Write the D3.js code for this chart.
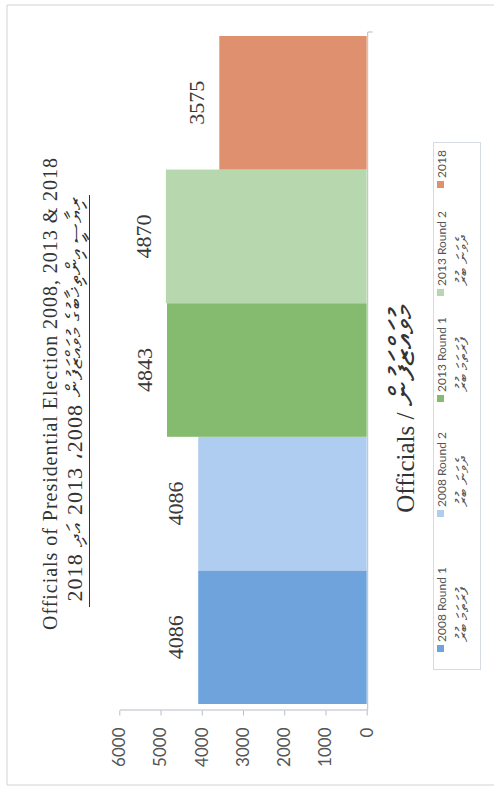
<!DOCTYPE html>
<html><head><meta charset="utf-8">
<script src="https://cdn.jsdelivr.net/npm/d3@7"></script>
<style>body{margin:0;background:#fff} svg{display:block}</style>
</head><body>
<svg id="c" width="494" height="787"></svg>
<script>
const categories = ["2008 Round 1","2008 Round 2","2013 Round 1","2013 Round 2","2018"];
const categoriesDv = ["ފުރަތަމަ ބުރު","ދެވަނަ ބުރު","ފުރަތަމަ ބުރު","ދެވަނަ ބުރު",""];
const values = [4086,4086,4843,4870,3575];
const colors = ["#6fa3dc","#aecdf0","#84bb6e","#b7d8ae","#df916f"];
const tickValues = [0,1000,2000,3000,4000,5000,6000];
const titleEn = "Officials of Presidential Election 2008, 2013 & 2018";
const titleDv = "ރިޔާސީ އިންތިޚާބުގެ މުވައްޒަފުން 2008، 2013 އަދި 2018";
const axisTitleEn = "Officials / ";
const axisTitleDv = "މުވައްޒަފުން";

const W = 787, H = 494;
const svg = d3.select("#c");
// outer frame (page coords)
svg.append("path").attr("d","M494,5 H7 V785 H494").attr("fill","none").attr("stroke","#cfd4da").attr("stroke-width",1);
// legend box (page coords)
svg.append("rect").attr("x",433.5).attr("y",142.5).attr("width",47).attr("height",527)
  .attr("fill","none").attr("stroke","#d6dbe1");

const g = svg.append("g").attr("transform",`translate(0,${W}) rotate(-90)`);

const x = d3.scaleBand().domain(categories).range([83,751]).padding(0);
const y = d3.scaleLinear().domain([0,6000]).range([366.7,119.3]);

g.selectAll("rect.bar").data(categories).join("rect").attr("class","bar")
  .attr("x",d=>x(d)).attr("y",(d,i)=>y(values[i]))
  .attr("width",x.bandwidth()).attr("height",(d,i)=>y(0)-y(values[i]))
  .attr("fill",(d,i)=>colors[i]);

// value axis
const ya = g.append("g").attr("transform","translate(76.5,0)")
  .call(d3.axisLeft(y).tickValues(tickValues).tickSize(5).tickSizeOuter(0).tickPadding(12).tickFormat(d3.format("d")));
ya.select(".domain").attr("stroke","#b5bdc7");
ya.selectAll(".tick line").attr("stroke","#b5bdc7");
ya.selectAll(".tick text").attr("font-family","Lato").attr("font-size",17).attr("fill","#555");

// category axis line
g.append("path").attr("d",`M76.5,${y(0)+1} H755 V${y(0)+6}`).attr("fill","none").attr("stroke","#b5bdc7");

// data labels
g.selectAll("text.lbl").data(categories).join("text").attr("class","lbl")
  .attr("x",d=>x(d)+x.bandwidth()/2).attr("y",(d,i)=>y(values[i])-15)
  .attr("text-anchor","middle").attr("font-family","Liberation Serif").attr("font-size",22).attr("fill","#3a3a3a")
  .text((d,i)=>values[i]);

// titles
g.append("text").attr("x",393).attr("y",57).attr("text-anchor","middle")
  .attr("font-family","Liberation Serif").attr("font-size",20).attr("fill","#333")
  .attr("textLength",472).attr("lengthAdjust","spacing").text(titleEn);
g.append("text").attr("x",388).attr("y",82).attr("text-anchor","middle").attr("direction","rtl")
  .attr("font-family","Liberation Serif").attr("font-size",22).attr("fill","#333")
  .attr("textLength",405).attr("lengthAdjust","spacing").text(titleDv);
g.append("line").attr("x1",180).attr("x2",592).attr("y1",89.5).attr("y2",89.5).attr("stroke","#333");

const at = g.append("text").attr("x",378).attr("y",414).attr("text-anchor","middle")
  .attr("font-family","Liberation Serif").attr("font-size",25).attr("fill","#333");
at.append("tspan").text(axisTitleEn);
at.append("tspan").attr("font-size",34).text(axisTitleDv);

// legend
const legStart = [135,270,385,491,599];
const lg = g.selectAll("g.leg").data(categories).join("g").attr("class","leg")
  .attr("transform",(d,i)=>`translate(${legStart[i]},0)`);
lg.append("rect").attr("x",0).attr("y",437).attr("width",7).attr("height",7).attr("fill",(d,i)=>colors[i]);
lg.append("text").attr("x",10).attr("y",446).attr("font-family","Lato").attr("font-size",12).attr("fill","#555").text(d=>d);
lg.append("text").attr("x",10).attr("y",468).attr("font-family","Lato").attr("font-size",17).attr("fill","#555").text((d,i)=>categoriesDv[i]);
</script>
</body></html>
